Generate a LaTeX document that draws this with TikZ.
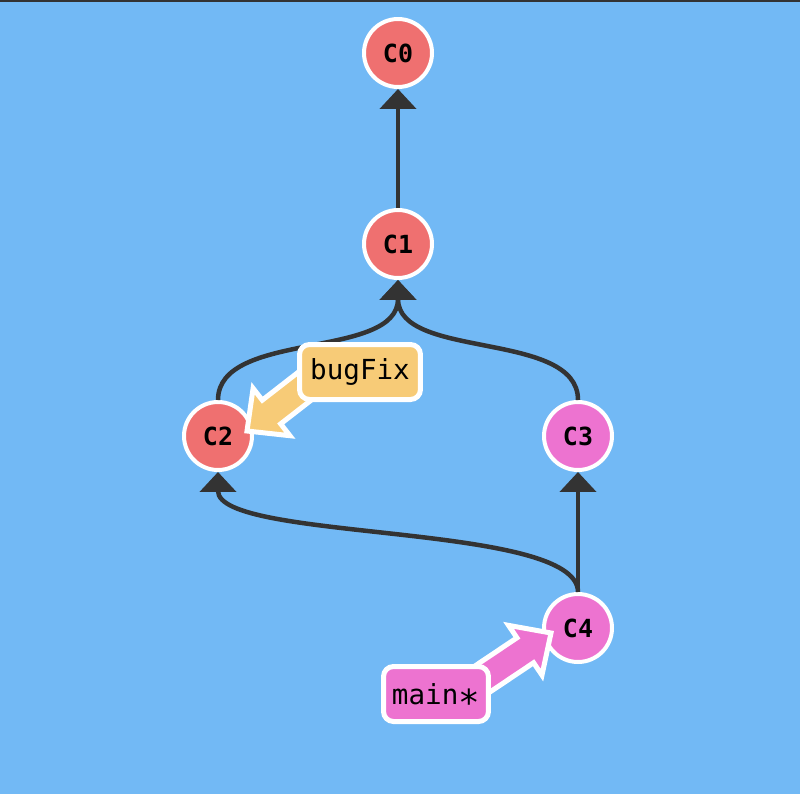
\documentclass[tikz,border=0pt]{standalone}
\usepackage{fontspec}
\usepackage{graphicx}
\setmonofont{DejaVu Sans Mono}
\usetikzlibrary{arrows.meta,calc}
\definecolor{sky}{RGB}{114,185,245}
\definecolor{dark}{RGB}{51,51,51}
\definecolor{redcommit}{RGB}{239,112,112}
\definecolor{pinkcommit}{RGB}{237,115,208}
\definecolor{orangelabel}{RGB}{247,203,119}
\newcommand\brancharrow[3]{%
	\coordinate (h) at ($(#2)!0.62cm!(#1)$);
	\filldraw[fill=#3,draw=white,line width=0.1cm,line join=miter] (#2) -- ($(h)!0.6cm!90:(#1)$) -- ($(h)!0.3cm!90:(#1)$) -- ($(#1)!0.3cm!-90:(h)$) -- ($(#1)!0.3cm!90:(h)$) -- ($(h)!0.3cm!-90:(#1)$) -- ($(h)!0.6cm!-90:(#1)$) -- cycle;}
\newcommand\headstar{\raisebox{-0.4em}[0pt][0pt]{\scalebox{1.3}{*}}}

\begin{document}
\begin{tikzpicture}[x=0.02cm,y=-0.02cm,
	commit/.style={circle,draw=white,line width=0.08cm,minimum size=1.36cm,inner sep=0pt,font=\ttfamily\bfseries\fontsize{14.2}{16}\selectfont},
	branch/.style={rectangle,rounded corners=0.2cm,draw=white,line width=0.1cm,minimum height=1.1cm,inner sep=0pt,font=\ttfamily\fontsize{15.7}{18}\selectfont},
	parent/.style={draw=dark,line width=0.09cm,-{Triangle[width=0.72cm,length=0.4cm]}}]
				\useasboundingbox (0,0) rectangle (800,794);
				\fill[sky] (0,0) rectangle (800,794);
				\fill[dark] (0,0) rectangle (800,2);
				\node[commit,fill=redcommit] (C0) at (398,53) {C0};
				\node[commit,fill=redcommit] (C1) at (398,244) {C1};
				\node[commit,fill=redcommit] (C2) at (218,436) {C2};
				\node[commit,fill=pinkcommit] (C3) at (578,436) {C3};
				\node[commit,fill=pinkcommit] (C4) at (578,628) {C4};
				\draw[parent] (C1.north) -- (C0.south);
				\draw[parent] (C2.north) .. controls +(0,-70) and +(0,80) .. (C1.south);
				\draw[parent] (C3.north) .. controls +(0,-70) and +(0,80) .. (C1.south);
				\draw[parent] (C4.north) -- (C3.south);
				\draw[parent] (C4.north) .. controls +(0,-70) and +(0,70) .. (C2.south);
				\coordinate (bugFixtip) at (247,431);
				\coordinate (bugFixtail) at (332,365);
				\coordinate (maintip) at (551,633);
				\coordinate (maintail) at (469,688);
				\brancharrow{bugFixtail}{bugFixtip}{orangelabel}
				\brancharrow{maintail}{maintip}{pinkcommit}
				\node[branch,fill=orangelabel,minimum width=2.42cm] (bugFix) at (360,372) {bugFix};
				\node[branch,fill=pinkcommit,minimum width=2.1cm] (main) at (436,694) {main\headstar};
			\end{tikzpicture}
\end{document}
